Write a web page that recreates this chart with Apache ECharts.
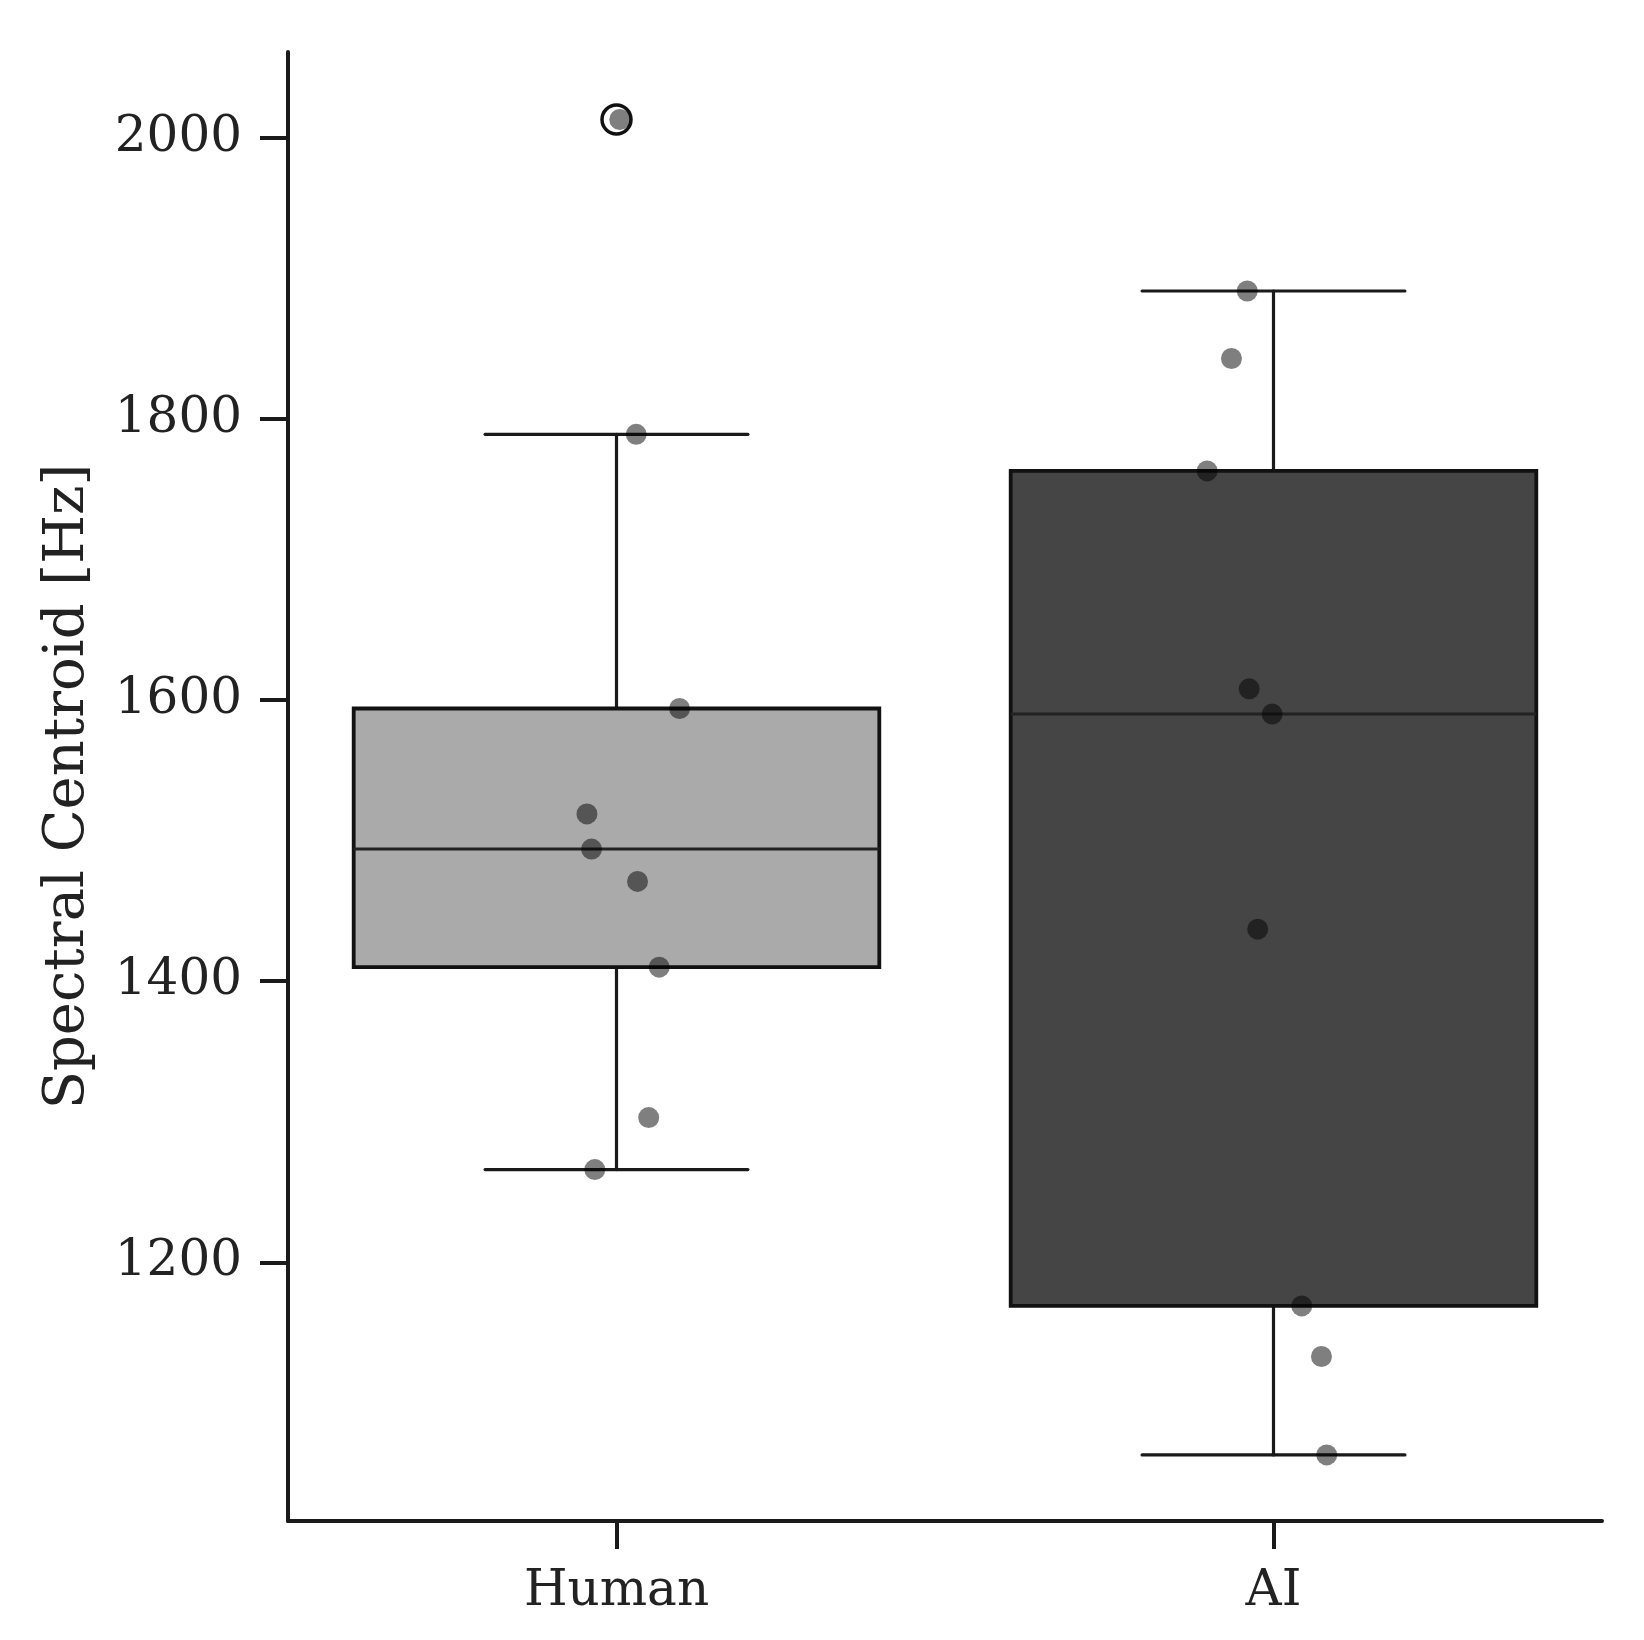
<!DOCTYPE html>
<html>
<head>
<meta charset="utf-8">
<script src="https://cdn.jsdelivr.net/npm/echarts@6/dist/echarts.min.js"></script>
<style>
  html, body { margin: 0; padding: 0; background: #fff; }
  #chart { width: 1644px; height: 1640px; }
</style>
</head>
<body>
<div id="chart"></div>
<script>
// categories
var categories = ['Human', 'AI'];

// box stats
var boxLow = [1266, 1063];
var boxQ1 = [1410, 1169];
var boxMedian = [1494, 1590];
var boxQ3 = [1594, 1763];
var boxHigh = [1789, 1891];

// outliers (category index, value)
var outlierCat = [0];
var outlierValues = [2013];

// strip points: value + jitter offset (in category units)
var humanValues = [2013, 1789, 1594, 1519, 1494, 1471, 1410, 1303, 1266];
var humanJitter = [0.005, 0.030, 0.096, -0.045, -0.038, 0.032, 0.065, 0.049, -0.033];
var aiValues = [1891, 1843, 1763, 1608, 1590, 1437, 1169, 1133, 1063];
var aiJitter = [-0.040, -0.064, -0.101, -0.037, -0.002, -0.024, 0.043, 0.073, 0.081];

// y ticks
var yTicks = [1200, 1400, 1600, 1800, 2000];

var FONT = 'DejaVu Serif';
var boxFill = ['#aaaaaa', '#454545'];
var ink = '#1a1a1a';

var chart = echarts.init(document.getElementById('chart'));

// box + whiskers, caps are half the box width
function renderBox(params, api) {
  var i = api.value(0);
  var band = api.size([1, 0])[0];
  var half = band * 0.4;
  var capHalf = band * 0.2;
  var x = api.coord([i, api.value(3)])[0];
  var yLow = api.coord([i, api.value(1)])[1];
  var yQ1 = api.coord([i, api.value(2)])[1];
  var yMed = api.coord([i, api.value(3)])[1];
  var yQ3 = api.coord([i, api.value(4)])[1];
  var yHigh = api.coord([i, api.value(5)])[1];
  var lineStyle = { stroke: ink, lineWidth: 3.2, lineCap: 'round' };
  return {
    type: 'group',
    children: [
      { type: 'line', shape: { x1: x, y1: yQ1, x2: x, y2: yLow }, style: lineStyle },
      { type: 'line', shape: { x1: x, y1: yQ3, x2: x, y2: yHigh }, style: lineStyle },
      { type: 'line', shape: { x1: x - capHalf, y1: yLow, x2: x + capHalf, y2: yLow }, style: lineStyle },
      { type: 'line', shape: { x1: x - capHalf, y1: yHigh, x2: x + capHalf, y2: yHigh }, style: lineStyle },
      {
        type: 'rect',
        shape: { x: x - half, y: yQ3, width: half * 2, height: yQ1 - yQ3 },
        style: { fill: boxFill[i], stroke: '#111', lineWidth: 3.8 }
      },
      { type: 'line', shape: { x1: x - half, y1: yMed, x2: x + half, y2: yMed }, style: { stroke: '#222', lineWidth: 3 } }
    ]
  };
}

var boxData = categories.map(function (c, i) {
  return [i, boxLow[i], boxQ1[i], boxMedian[i], boxQ3[i], boxHigh[i]];
});

var humanPts = humanValues.map(function (v, k) { return [0 + humanJitter[k], v]; });
var aiPts = aiValues.map(function (v, k) { return [1 + aiJitter[k], v]; });
var outlierPts = outlierValues.map(function (v, k) { return [outlierCat[k], v]; });

var option = {
  backgroundColor: '#fff',
  animation: false,
  grid: { left: 288, right: 42, top: 52, bottom: 119, outerBoundsMode: 'none' },
  xAxis: [
    {
      type: 'category',
      data: categories,
      axisLine: { show: true, onZero: false, lineStyle: { color: ink, width: 4 } },
      axisTick: { show: true, alignWithLabel: true, length: 28, lineStyle: { color: ink, width: 4 } },
      axisLabel: { fontFamily: FONT, fontSize: 50, color: '#222', margin: 46 },
      splitLine: { show: false }
    },
    {
      type: 'value',
      min: -0.5,
      max: 1.5,
      show: false
    }
  ],
  yAxis: {
    type: 'value',
    min: 1016,
    max: 2061,
    name: 'Spectral Centroid [Hz]',
    nameLocation: 'middle',
    nameGap: 192,
    nameRotate: 90,
    nameTextStyle: { fontFamily: FONT, fontSize: 56, color: '#222' },
    axisLine: { show: true, onZero: false, lineStyle: { color: ink, width: 4 } },
    axisTick: { show: true, length: 28, customValues: yTicks, lineStyle: { color: ink, width: 4 } },
    axisLabel: {
      customValues: yTicks,
      fontFamily: FONT, fontSize: 50, color: '#222', margin: 46,
      formatter: function (v) { return String(v); }
    },
    splitLine: { show: false }
  },
  series: [
    {
      type: 'custom',
      name: 'box',
      xAxisIndex: 0,
      renderItem: renderBox,
      encode: { x: 0, y: [1, 2, 3, 4, 5] },
      data: boxData,
      z: 1
    },
    {
      type: 'scatter',
      name: 'outliers',
      xAxisIndex: 1,
      symbol: 'circle',
      symbolSize: 29,
      itemStyle: { color: '#fff', borderColor: '#111', borderWidth: 3.5, opacity: 1 },
      data: outlierPts,
      z: 2
    },
    {
      type: 'scatter',
      name: 'Human',
      xAxisIndex: 1,
      symbolSize: 21,
      itemStyle: { color: 'rgba(0,0,0,0.5)', opacity: 1 },
      data: humanPts,
      z: 3
    },
    {
      type: 'scatter',
      name: 'AI',
      xAxisIndex: 1,
      symbolSize: 21,
      itemStyle: { color: 'rgba(0,0,0,0.5)', opacity: 1 },
      data: aiPts,
      z: 3
    }
  ]
};

chart.setOption(option);
</script>
</body>
</html>
